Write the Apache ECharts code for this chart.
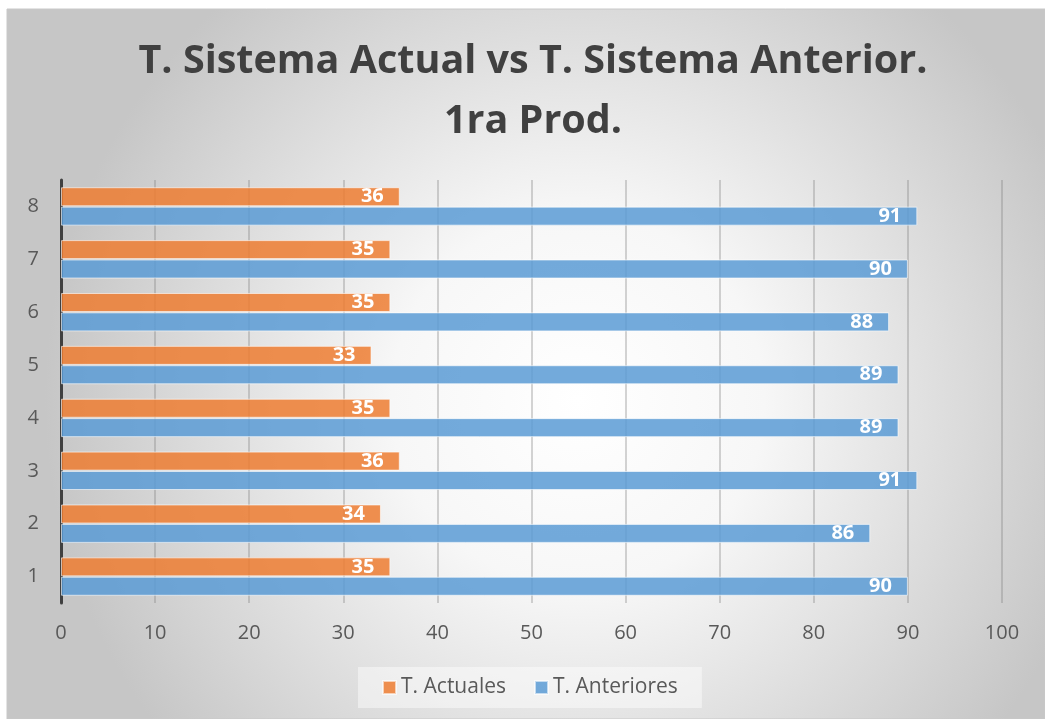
<!DOCTYPE html>
<html lang="es">
<head>
  <meta charset="UTF-8">
  <title>T. Sistema Actual vs T. Sistema Anterior</title>
  <style>
    html, body { margin: 0; padding: 0; background: #fff; }
    #root { width: 1045px; height: 719px; }
  </style>
</head>
<body>
  <div id="root"></div>
</body>
<script src="https://cdn.jsdelivr.net/npm/echarts@6/dist/echarts.min.js"></script>
<script>
  // datos
  const categorias = ['1', '2', '3', '4', '5', '6', '7', '8'];
  const actuales = [35, 34, 36, 35, 33, 35, 35, 36];
  const anteriores = [90, 86, 91, 89, 89, 88, 90, 91];
  const ticksX = [0, 10, 20, 30, 40, 50, 60, 70, 80, 90, 100];

  const fuente = '"Open Sans", "Noto Sans", sans-serif';

  let myChart = echarts.init(document.getElementById('root'));

  const etiqueta = {
    show: true,
    position: 'insideRight',
    distance: 16,
    color: '#fff',
    fontFamily: fuente,
    fontWeight: 'bold',
    fontSize: 20
  };

  let option = {
    backgroundColor: 'transparent',
    graphic: [{
      type: 'rect',
      z: -10,
      silent: true,
      shape: { x: 7, y: 9, width: 1045 - 7, height: 719 - 9 },
      style: {
        fill: new echarts.graphic.RadialGradient(0.55, 0.55, 0.75, [
          { offset: 0, color: '#ffffff' },
          { offset: 0.35, color: '#f7f7f7' },
          { offset: 1, color: '#c6c6c6' }
        ]),
        stroke: '#c8c8c8',
        lineWidth: 1
      }
    }],
    title: {
      text: 'T. Sistema Actual vs T. Sistema Anterior.\n1ra Prod.',
      left: 528,
      top: 27,
      textAlign: 'center',
      textStyle: {
        fontFamily: fuente,
        fontWeight: 'bold',
        fontSize: 39.5,
        lineHeight: 60,
        color: '#404040'
      }
    },
    legend: {
      data: ['T. Actuales', 'T. Anteriores'],
      bottom: 11,
      left: 358,
      itemWidth: 13,
      itemHeight: 13,
      itemGap: 28,
      padding: [10, 24],
      backgroundColor: 'rgba(255,255,255,0.45)',
      icon: 'rect',
      textStyle: { fontFamily: fuente, fontSize: 21, color: '#595959' }
    },
    grid: { left: 61, right: 43, top: 180, bottom: 116, containLabel: false },
    xAxis: {
      type: 'value',
      min: ticksX[0],
      max: ticksX[ticksX.length - 1],
      interval: 10,
      axisLine: { show: false },
      axisTick: { show: false },
      axisLabel: { fontFamily: fuente, fontSize: 20, color: '#595959', margin: 20 },
      splitLine: { lineStyle: { color: 'rgba(128,128,128,0.45)', width: 1.5 } }
    },
    yAxis: {
      type: 'category',
      data: categorias,
      axisLine: { lineStyle: { color: '#404040', width: 3 } },
      axisTick: { show: false },
      axisLabel: { fontFamily: fuente, fontSize: 20, color: '#595959', margin: 22 }
    },
    series: [
      {
        name: 'T. Actuales',
        type: 'bar',
        data: actuales,
        barWidth: 19,
        barGap: '2%',
        itemStyle: { color: 'rgba(237,125,49,0.85)', borderColor: 'rgba(255,255,255,0.6)', borderWidth: 1 },
        label: etiqueta
      },
      {
        name: 'T. Anteriores',
        type: 'bar',
        data: anteriores,
        barWidth: 19,
        barGap: '2%',
        itemStyle: { color: 'rgba(91,155,213,0.85)', borderColor: 'rgba(255,255,255,0.6)', borderWidth: 1 },
        label: etiqueta
      }
    ]
  };

  myChart.setOption(option);
</script>
</html>
